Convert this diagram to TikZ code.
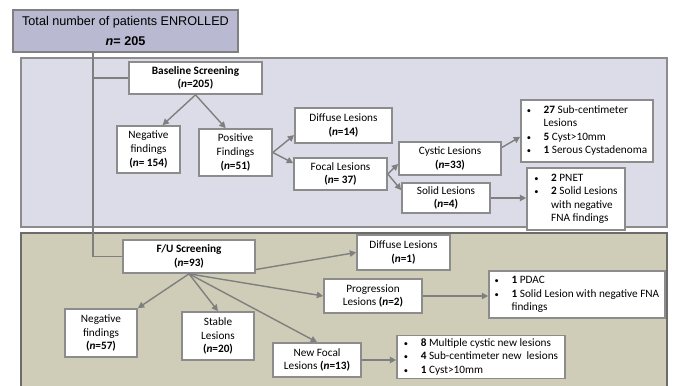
\documentclass[tikz,border=0pt]{standalone}
\usepackage{fontspec}
\setmainfont{Carlito}
\newfontfamily\arialfont{Liberation Sans}
\usetikzlibrary{arrows.meta}
\newlength\px
\setlength\px{0.25mm}
\definecolor{paneblue}{HTML}{DCDCE8}
\definecolor{panekhaki}{HTML}{CFCDB7}
\definecolor{topblue}{HTML}{B9B9D1}
\definecolor{edgegray}{HTML}{8C8C8C}
\definecolor{linegray}{HTML}{7F7F7F}
\tikzset{
  box/.style={draw=edgegray, fill=white, line width=1.2pt, align=center, inner sep=1pt, font=\fontsize{8}{9.8}\selectfont},
  listbox/.style={box, font=\fontsize{8}{9.5}\selectfont},
  arr/.style={draw=linegray, line width=1pt, -{Triangle[length=4.5pt,width=4.5pt]}},
  link/.style={draw=linegray, line width=1pt},
}
\newcommand\cnt[1]{\textbf{(\textit{n}=#1)}}
\newcommand\bul{{\fontsize{6}{6}\selectfont•}}

\begin{document}
\begin{tikzpicture}[x=0.25mm, y=-0.25mm]
\useasboundingbox (0,0) rectangle (673,385);
\clip (0,0) rectangle (673,385);
\fill[white] (0,0) rectangle (673,385);

% the two screening panels
\draw[fill=paneblue, draw=edgegray, line width=1pt] (21,58) rectangle (667,227);
\draw[fill=panekhaki, draw=gray!85!black, line width=1.5pt] (21,233) rectangle (667,395);

\node[box, fill=topblue, draw=gray, line width=1.5pt, minimum width=225\px, minimum height=42\px, font=\arialfont\fontsize{9}{14}\selectfont] (total) at (125.5,31) {Total number of patients ENROLLED\\\textbf{\textit{n}= 205}};

% baseline
\node[box, minimum width=133\px, minimum height=32\px] (base) at (195.5,78) {\textbf{Baseline Screening}\\\cnt{205}};
\node[box, minimum width=63\px, minimum height=47\px] (bneg) at (148.5,149.5) {Negative\\findings\\\textbf{(\textit{n}= 154)}};
\node[box, minimum width=73\px, minimum height=47\px] (bpos) at (235.5,152.5) {Positive\\Findings\\\cnt{51}};
\node[box, minimum width=97\px, minimum height=35\px] (bdif) at (343.5,125.5) {Diffuse Lesions\\\cnt{14}};
\node[box, minimum width=93\px, minimum height=32\px] (bfoc) at (340.5,174) {Focal Lesions\\\textbf{(\textit{n}= 37)}};
\node[box, minimum width=102\px, minimum height=33\px] (bcys) at (450,158.5) {Cystic Lesions\\\cnt{33}};
\node[box, minimum width=88\px, minimum height=30\px] (bsol) at (446,198) {Solid Lesions\\\cnt{4}};
\node[listbox, minimum width=132\px, minimum height=62\px] (bcyslist) at (587,131) {%
  \begin{tabular}{@{}l@{\hspace{9pt}}l@{}}
  \bul & \textbf{27} Sub-centimeter\\
       & Lesions\\
  \bul & \textbf{5} Cyst>10mm\\
  \bul & \textbf{1} Serous Cystadenoma
  \end{tabular}};
\node[listbox, minimum width=98\px, minimum height=62\px] (bsollist) at (576,199) {%
  \begin{tabular}{@{}l@{\hspace{9pt}}l@{}}
  \bul & \textbf{2} PNET\\
  \bul & \textbf{2} Solid Lesions\\
       & with negative\\
       & FNA findings
  \end{tabular}};

% follow-up
\node[box, minimum width=132\px, minimum height=33\px] (fu) at (189,256.5) {\textbf{F/U Screening}\\\cnt{93}};
\node[box, minimum width=72\px, minimum height=48\px] (fneg) at (101,333) {Negative\\findings\\\cnt{57}};
\node[box, minimum width=72\px, minimum height=48\px] (fsta) at (218,336) {Stable\\Lesions\\\cnt{20}};
\node[box, minimum width=88\px, minimum height=34\px] (fnew) at (317,360) {New Focal\\Lesions \cnt{13}};
\node[box, minimum width=93\px, minimum height=35\px] (fdif) at (403.5,252.5) {Diffuse Lesions\\\cnt{1}};
\node[box, minimum width=98\px, minimum height=34\px] (fpro) at (373,296) {Progression\\Lesions \cnt{2}};
\node[listbox, minimum width=176\px, minimum height=47\px] (fprolist) at (577,294.5) {%
  \begin{tabular}{@{}l@{\hspace{9pt}}l@{}}
  \bul & \textbf{1} PDAC\\
  \bul & \textbf{1} Solid Lesion with negative FNA\\
       & findings
  \end{tabular}};
\node[listbox, minimum width=168\px, minimum height=42\px] (fnewlist) at (481,357) {%
  \begin{tabular}{@{}l@{\hspace{9pt}}l@{}}
  \bul & \textbf{8} Multiple cystic new lesions\\
  \bul & \textbf{4} Sub-centimeter new\ \ lesions\\
  \bul & \textbf{1} Cyst>10mm
  \end{tabular}};

% connectors
\coordinate (trunk) at (93,52);
\draw[link] (trunk) |- (fu.west);
\draw[link] (trunk |- base.west) -- (base.west);

\draw[arr] (base.south) -- (bneg.60);
\draw[arr] (base.south) -- (bpos.112);
\draw[arr] (bpos.east) -- (bdif.191);
\draw[arr] (bpos.east) -- (bfoc.167);
\draw[arr] (bfoc.east) -- (bcys.186);
\draw[arr] (bfoc.east) -- (bsol.170);
\draw[arr] (bcys.12) -- (bcyslist.185);
\draw[arr] (bsol.east) -- (bsol.east -| bsollist.west);

\draw[arr] (fu.-11) -- (fdif.west);
\draw[arr] (fu.south) -- (fneg.north east);
\draw[arr] (fu.south) -- (fsta.north);
\draw[arr] (fu.south) -- (fpro.west);
\draw[arr] (fu.south) -- (fnew.north);
\draw[arr] (fpro.east) -- (fpro.east -| fprolist.west);
\draw[arr] (fnew.east) -- (fnew.east -| fnewlist.west);
\end{tikzpicture}
\end{document}
